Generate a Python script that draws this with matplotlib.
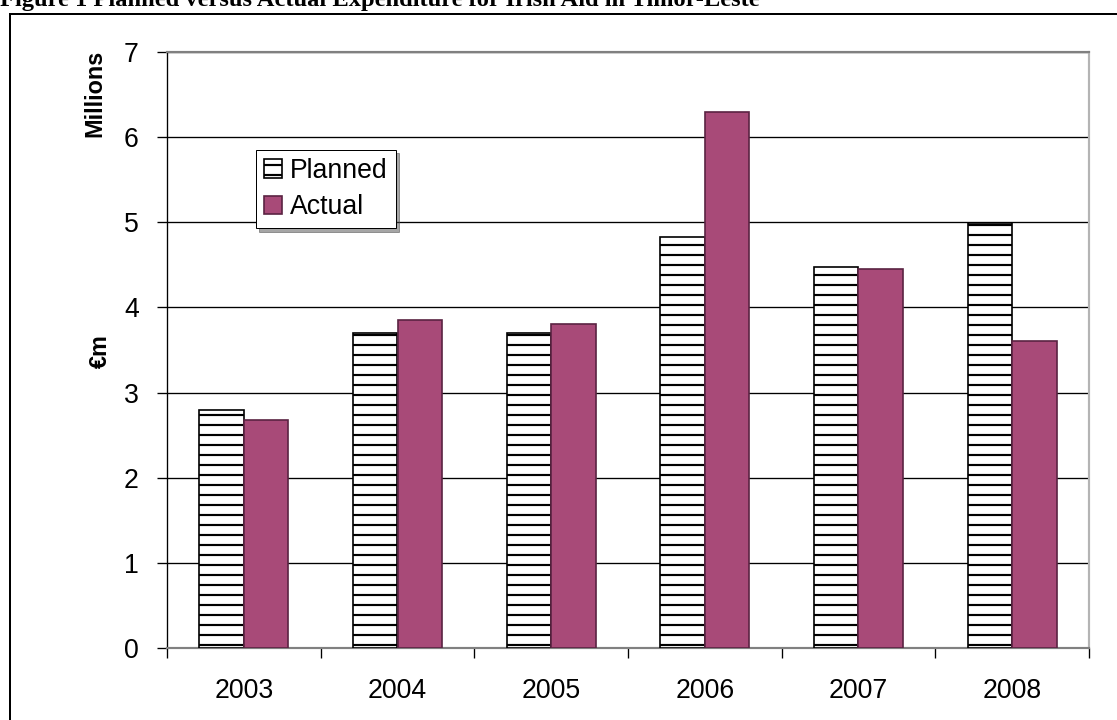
import numpy as np
import matplotlib
matplotlib.use("Agg")
import matplotlib.pyplot as plt
from matplotlib.patches import Rectangle

# values (EUR millions)
years = ["2003", "2004", "2005", "2006", "2007", "2008"]
planned = [2.80, 3.70, 3.70, 4.83, 4.47, 4.99]
actual = [2.68, 3.85, 3.81, 6.30, 4.45, 3.60]

DPI = 120
plt.rcParams['font.family'] = ['Liberation Sans', 'DejaVu Sans']
plt.rcParams['hatch.linewidth'] = 1.3

fig = plt.figure(figsize=(1117 / DPI, 720 / DPI), dpi=DPI)
ax = fig.add_axes([167 / 1117, 1 - 648 / 720, (1089 - 167) / 1117, (648 - 52) / 720])

x = np.arange(len(years))
w = 0.29
purple = "#a84a78"

ax.bar(x - w / 2, planned, w, color="white", edgecolor="black", hatch="--",
       linewidth=1.0, label="Planned", zorder=3)
ax.bar(x + w / 2, actual, w, color=purple, edgecolor="#5a2342",
       linewidth=1.0, label="Actual", zorder=3)

ax.set_xlim(-0.5, len(years) - 0.5)
ax.set_ylim(0, 7)
ax.set_yticks(range(0, 8))
ax.yaxis.grid(True, color="black", linewidth=0.8, zorder=0)
ax.set_axisbelow(True)

ax.set_xticks(x)
ax.set_xticklabels(years)
ax.set_xticks(np.arange(-0.5, len(years)), minor=True)
ax.tick_params(axis="x", which="major", length=0, pad=18, labelsize=16)
ax.tick_params(axis="x", which="minor", length=6, width=0.8, direction="out", color="black")
ax.tick_params(axis="y", length=6, width=0.8, direction="out", pad=11, labelsize=16)

ax.spines["top"].set_color("#808080")
ax.spines["top"].set_linewidth(1.3)
ax.spines["bottom"].set_color("#808080")
ax.spines["bottom"].set_linewidth(1.3)
ax.spines["right"].set_color("#b4b4b4")
ax.spines["right"].set_linewidth(1.3)
ax.spines["left"].set_color("black")
ax.spines["left"].set_linewidth(0.8)

leg = ax.legend(loc="upper left", bbox_to_anchor=(0.096, 0.836), fontsize=16,
                frameon=True, fancybox=False, shadow=True, borderpad=0.3,
                handlelength=0.7, handleheight=0.7, handletextpad=0.3,
                labelspacing=0.4, borderaxespad=0)
leg.get_frame().set_edgecolor("black")
leg.get_frame().set_linewidth(0.6)

fig.text(95 / 1117, 1 - 93 / 720, "Millions", rotation=90, fontsize=14,
         fontweight="bold", ha="center", va="center")
fig.text(100 / 1117, 1 - 351 / 720, "€m", rotation=90, fontsize=14,
         fontweight="bold", ha="center", va="center")

# outer frame and caption, clipped at the top as in the source page
fig.patches.append(Rectangle((10 / 1117, -0.1), 1.2, 1 - 14 / 720 + 0.1,
                             transform=fig.transFigure, fill=False,
                             edgecolor="black", linewidth=1.2))
fig.text(0.0, 1 - 6 / 720, "Figure 1 Planned versus Actual Expenditure for Irish Aid in Timor-Leste",
         family=["Liberation Serif"], fontweight="bold", fontsize=14.7,
         ha="left", va="baseline")

fig.savefig("out.png", dpi=DPI)
